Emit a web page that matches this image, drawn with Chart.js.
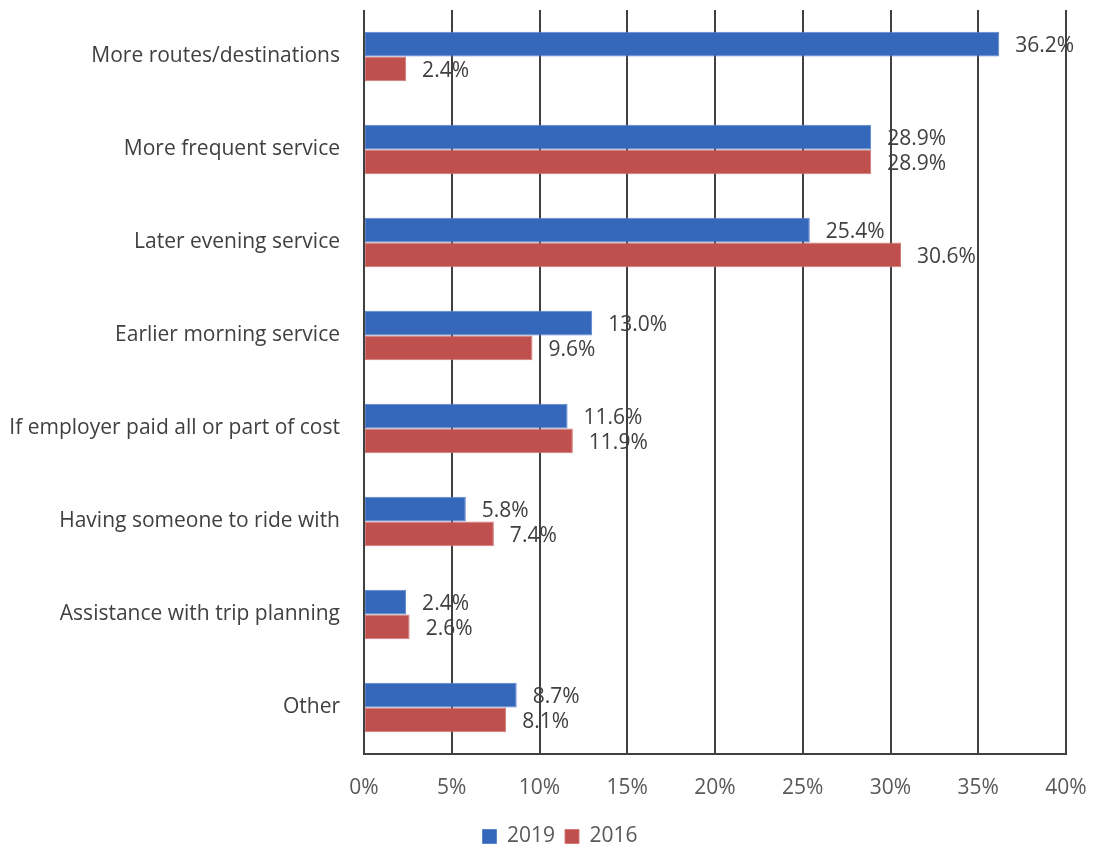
<!DOCTYPE html>
<html>
<head>
<meta charset="utf-8">
<script src="https://cdn.jsdelivr.net/npm/chart.js@4"></script>
<style>
  html, body { margin: 0; padding: 0; background: #fff; }
  #wrap { width: 1093px; height: 851px; }
</style>
</head>
<body>
<div id="wrap"><canvas id="chart"></canvas></div>
<script>
const categories = [
  'More routes/destinations',
  'More frequent service',
  'Later evening service',
  'Earlier morning service',
  'If employer paid all or part of cost',
  'Having someone to ride with',
  'Assistance with trip planning',
  'Other'
];
const values2019 = [36.2, 28.9, 25.4, 13.0, 11.6, 5.8, 2.4, 8.7];
const values2016 = [2.4, 28.9, 30.6, 9.6, 11.9, 7.4, 2.6, 8.1];
const xTicks = [0, 5, 10, 15, 20, 25, 30, 35, 40];

const FONT = '"Open Sans", "Noto Sans", sans-serif';
const FONT_SIZE = 21;

// draws the value next to the end of each bar
const barValueLabels = {
  id: 'barValueLabels',
  afterDatasetsDraw(chart) {
    const ctx = chart.ctx;
    ctx.save();
    ctx.font = FONT_SIZE + 'px ' + FONT;
    ctx.fillStyle = '#404040';
    ctx.textAlign = 'left';
    ctx.textBaseline = 'middle';
    chart.data.datasets.forEach((ds, i) => {
      chart.getDatasetMeta(i).data.forEach((bar, j) => {
        ctx.fillText(ds.data[j].toFixed(1) + '%', bar.x + 16, bar.y + 2);
      });
    });
    ctx.restore();
  }
};

// nudge the legend a bit right and down
const legendOffset = {
  id: 'legendOffset',
  afterLayout(chart) {
    const lg = chart.legend;
    lg.left += 27;
    lg.right += 27;
    lg.top += 6;
    lg.bottom += 6;
  }
};

// keep the tick labels from pushing the plot area inwards
const noLabelPadding = scale => {
  scale.paddingTop = 0;
  scale.paddingBottom = 0;
  scale.paddingLeft = 0;
  scale.paddingRight = 0;
};

new Chart(document.getElementById('chart'), {
  type: 'bar',
  data: {
    labels: categories,
    datasets: [
      {
        label: '2019',
        data: values2019,
        backgroundColor: '#3567BA',
        borderColor: '#5B85CB',
        borderWidth: 1,
        borderSkipped: false,
        categoryPercentage: 0.53,
        barPercentage: 1
      },
      {
        label: '2016',
        data: values2016,
        backgroundColor: '#C0504D',
        borderColor: '#D07A77',
        borderWidth: 1,
        borderSkipped: false,
        categoryPercentage: 0.53,
        barPercentage: 1
      }
    ]
  },
  options: {
    indexAxis: 'y',
    responsive: true,
    maintainAspectRatio: false,
    animation: false,
    layout: { padding: { top: 10, right: 27, left: 0, bottom: 0 } },
    scales: {
      x: {
        min: 0,
        max: 40,
        afterBuildTicks: scale => { scale.ticks = xTicks.map(v => ({ value: v })); },
        afterFit: scale => { noLabelPadding(scale); scale.height = 56; },
        grid: { color: '#404040', lineWidth: 2, drawTicks: true, tickLength: 21, tickColor: 'rgba(0,0,0,0)' },
        border: { display: true, color: '#404040', width: 2 },
        ticks: {
          padding: 0,
          color: '#595959',
          font: { family: FONT, size: FONT_SIZE },
          callback: v => v + '%'
        }
      },
      y: {
        grid: { display: false, drawTicks: true, tickLength: 24, tickColor: 'rgba(0,0,0,0)' },
        border: { display: false },
        afterFit: scale => { noLabelPadding(scale); scale.width = 364; },
        ticks: {
          padding: 0,
          color: '#404040',
          font: { family: FONT, size: FONT_SIZE }
        }
      }
    },
    plugins: {
      legend: {
        position: 'bottom',
        labels: {
          boxWidth: 14,
          boxHeight: 14,
          padding: 10,
          color: '#595959',
          font: { family: FONT, size: FONT_SIZE }
        }
      },
      tooltip: { enabled: false }
    }
  },
  plugins: [barValueLabels, legendOffset]
});
</script>
</body>
</html>
